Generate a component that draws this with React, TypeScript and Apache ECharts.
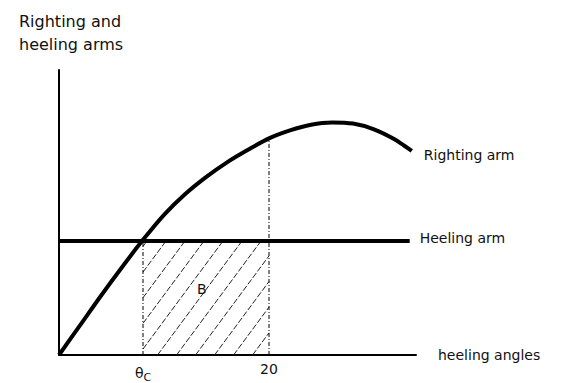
import React, { useEffect, useRef } from "react";
import * as echarts from "echarts";

// Heel angle (deg) vs arm length (arbitrary units)
const rightingAngles = [0, 2, 4, 6, 8, 10, 12, 14, 16, 18, 20, 22, 24, 26, 28, 30, 32, 33.6];
const rightingArm = [0, 0.26, 0.52, 0.77, 1.01, 1.23, 1.41, 1.56, 1.69, 1.8, 1.9, 1.97, 2.02, 2.04, 2.03, 1.98, 1.89, 1.79];
const heelingArmValue = 1.0;
const heelingEndAngle = 33.4;
const thetaC = 8;
const angle20 = 20;
const curveAt20 = 1.9;
const tickLabels: Record<number, string> = { 8: "{t|θ}{s|C}", 20: "20" };

const FONT = "DejaVu Sans";

export default function App() {
  const ref = useRef<HTMLDivElement>(null);
  useEffect(() => {
    const chart = echarts.init(ref.current!, undefined, { renderer: "svg" });
    const rightingData = rightingAngles.map((a, i) => [a, rightingArm[i]]);
    const heelingData = [
      [0, heelingArmValue],
      [heelingEndAngle, heelingArmValue],
    ];
    chart.setOption({
      animation: false,
      backgroundColor: "#fff",
      title: {
        text: "Righting and\nheeling arms",
        left: 14,
        top: 5,
        textStyle: {
          fontFamily: FONT,
          fontSize: 16,
          fontWeight: "normal",
          color: "#111",
          lineHeight: 23,
        },
      },
      grid: { left: 59, right: 152, top: 70, bottom: 26 },
      xAxis: {
        type: "value",
        min: 0,
        max: 34,
        interval: 4,
        name: "heeling angles",
        nameLocation: "end",
        nameGap: 22,
        nameTextStyle: { fontFamily: FONT, fontSize: 14, color: "#111", padding: [0, 0, 8, 0] },
        splitLine: { show: false },
        axisTick: { show: false },
        axisLine: { lineStyle: { color: "#000", width: 2 } },
        axisLabel: {
          margin: 7,
          fontFamily: FONT,
          fontSize: 14,
          color: "#111",
          formatter: (v: number) => tickLabels[v] ?? "",
          rich: {
            t: { fontFamily: FONT, fontSize: 14, color: "#111" },
            s: { fontFamily: FONT, fontSize: 11, color: "#111", padding: [10, 0, 0, 0] },
          },
        },
      },
      yAxis: {
        type: "value",
        min: 0,
        max: 2.5,
        splitLine: { show: false },
        axisTick: { show: false },
        axisLabel: { show: false },
        axisLine: { lineStyle: { color: "#000", width: 2 } },
      },
      series: [
        {
          type: "custom",
          silent: true,
          z: 1,
          data: [[thetaC, angle20, 0, heelingArmValue]],
          renderItem: (params: any, api: any) => {
            const x0 = api.value(0);
            const x1 = api.value(1);
            const y0 = api.value(2);
            const y1 = api.value(3);
            const bl = api.coord([x0, y0]);
            const tr = api.coord([x1, y1]);
            const left = bl[0];
            const bottom = bl[1];
            const W = tr[0] - bl[0];
            const H = bl[1] - tr[1];
            const slope = 1.35;
            const spacing = 19;
            const children: any[] = [];
            for (let c = -H / slope + 4; c < W; c += spacing) {
              const tMin = Math.max(0, -c * slope);
              const tMax = Math.min(H, (W - c) * slope);
              if (tMax <= tMin) continue;
              children.push({
                type: "line",
                shape: {
                  x1: left + c + tMin / slope,
                  y1: bottom - tMin,
                  x2: left + c + tMax / slope,
                  y2: bottom - tMax,
                },
                style: { stroke: "#222", lineWidth: 1, lineDash: [6, 2] },
              });
            }
            const bp = api.coord([13.6, 0.58]);
            children.push({
              type: "text",
              x: bp[0],
              y: bp[1],
              style: {
                text: "B",
                fontFamily: FONT,
                fontSize: 14,
                fill: "#111",
                align: "center",
                verticalAlign: "middle",
              },
            });
            return { type: "group", children };
          },
        },
        {
          type: "line",
          data: [
            [thetaC, 0],
            [thetaC, heelingArmValue],
          ],
          showSymbol: false,
          z: 2,
          lineStyle: { color: "#000", width: 1, type: [4, 2, 1, 2] },
        },
        {
          type: "line",
          data: [
            [angle20, 0],
            [angle20, curveAt20],
          ],
          showSymbol: false,
          z: 2,
          lineStyle: { color: "#000", width: 1, type: [4, 2, 1, 2] },
        },
        {
          type: "line",
          name: "Heeling arm",
          data: heelingData,
          showSymbol: false,
          z: 3,
          lineStyle: { color: "#000", width: 4 },
          endLabel: {
            show: true,
            formatter: "Heeling arm",
            distance: 10,
            offset: [0, -3],
            fontFamily: FONT,
            fontSize: 14,
            color: "#111",
          },
        },
        {
          type: "line",
          name: "Righting arm",
          data: rightingData,
          smooth: 0.3,
          showSymbol: false,
          z: 4,
          lineStyle: { color: "#000", width: 4 },
          endLabel: {
            show: true,
            formatter: "Righting arm",
            distance: 12,
            offset: [0, 4],
            fontFamily: FONT,
            fontSize: 14,
            color: "#111",
          },
        },
      ],
    });
    return () => chart.dispose();
  }, []);
  return (
    <div
      ref={ref}
      style={{ position: "fixed", left: 0, top: 0, width: 568, height: 383, background: "#fff" }}
    />
  );
}
